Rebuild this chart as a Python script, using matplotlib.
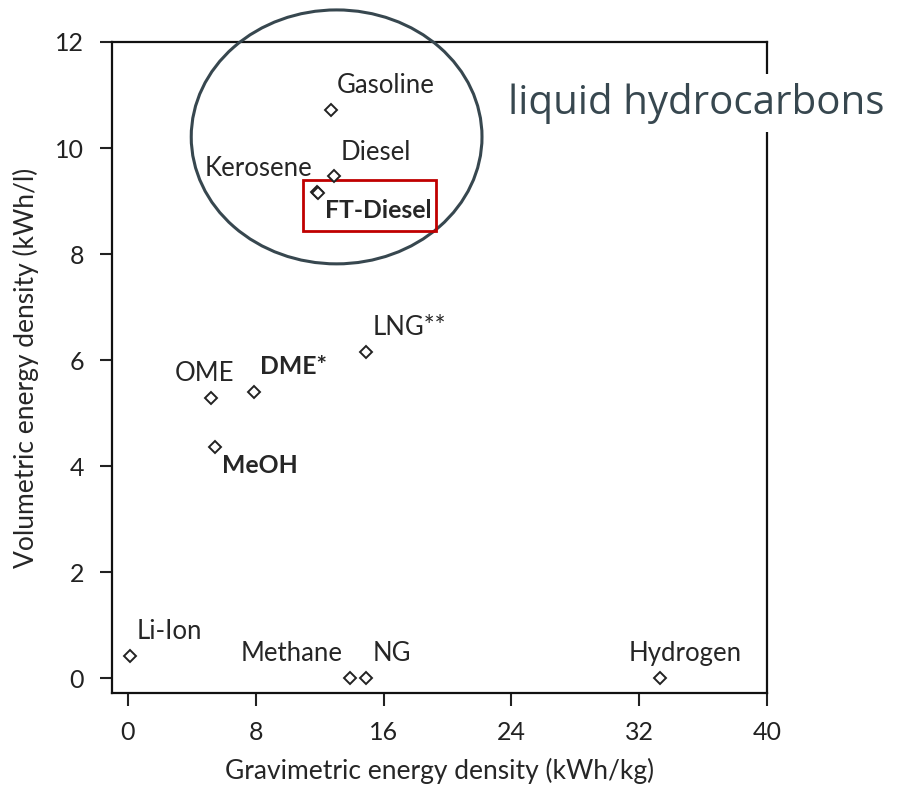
import matplotlib.pyplot as plt
from matplotlib.patches import Ellipse, Rectangle

# fuels: gravimetric (kWh/kg) vs volumetric (kWh/l) energy density
names = ["Gasoline", "Diesel", "Kerosene", "FT-Diesel", "LNG**", "DME*", "OME",
         "MeOH", "Li-Ion", "Methane", "NG", "Hydrogen"]
grav = [12.7, 12.9, 11.82, 11.9, 14.9, 7.9, 5.2, 5.45, 0.1, 13.9, 14.9, 33.3]
vol = [10.72, 9.47, 9.17, 9.15, 6.15, 5.4, 5.28, 4.36, 0.42, 0.0, 0.0, 0.0]
bold = ["FT-Diesel", "DME*", "MeOH"]

xticks = [0, 8, 16, 24, 32, 40]
yticks = [0, 2, 4, 6, 8, 10, 12]

# label placement (pixel offsets from the point, alignment)
label_pos = {
    "Gasoline": (6, 24, "left"),
    "Diesel": (7, 24, "left"),
    "Kerosene": (-4, 24, "right"),
    "FT-Diesel": (7, -17, "left"),
    "LNG**": (7, 25, "left"),
    "DME*": (6, 25, "left"),
    "OME": (23, 25, "right"),
    "MeOH": (7, -18, "left"),
    "Li-Ion": (7, 24, "left"),
    "Methane": (-7, 25, "right"),
    "NG": (7, 25, "left"),
    "Hydrogen": (25, 25, "center"),
}

FONT = "Lato"
TXT = "#262626"
FS = 18.5

fig = plt.figure(figsize=(8.99, 7.93), dpi=100)
ax = fig.add_axes([112 / 899, 1 - 693 / 793, 655 / 899, 651 / 793])

ax.plot(grav, vol, linestyle="none", marker="D", ms=6.3, mfc="white",
        mec="#222222", mew=1.4, zorder=4, clip_on=False)

for n, x, y in zip(names, grav, vol):
    dx, dy, ha = label_pos[n]
    is_bold = n in bold
    ax.annotate(n, (x, y), xytext=(dx, dy), textcoords="offset pixels",
                ha=ha, va="center", fontsize=17.8 if is_bold else FS,
                family=FONT, color=TXT,
                fontweight="bold" if is_bold else "normal", zorder=5)

ax.set_xlim(-1, 40)
ax.set_ylim(-0.28, 12)
ax.set_xticks(xticks)
ax.set_yticks(yticks)
ax.tick_params(length=9, width=1.5, pad=11, labelsize=18, colors="#222222")
for lab in ax.get_xticklabels() + ax.get_yticklabels():
    lab.set_family(FONT)
for s in ax.spines.values():
    s.set_linewidth(1.6)
    s.set_color("#111111")

ax.set_xlabel("Gravimetric energy density (kWh/kg)", fontsize=19, family=FONT,
              color=TXT, labelpad=10)
ax.set_ylabel("Volumetric energy density (kWh/l)", fontsize=19, family=FONT,
              color=TXT, labelpad=12)

# group outline and highlight box
ax.add_patch(Ellipse((13.06, 10.21), 18.2, 4.79, fill=False, ec="#37474f",
                     lw=2.2, clip_on=False, zorder=3))
ax.add_patch(Rectangle((10.94, 8.43), 8.37, 0.97, fill=False, ec="#c00000",
                       lw=2, zorder=3))

fig.text(508 / 899, 1 - 103 / 793, "liquid hydrocarbons", fontsize=29,
         family="Open Sans", color="#37474f", ha="left", va="center",
         bbox=dict(fc="white", ec="none", pad=6))

fig.savefig("out.png", dpi=100)
